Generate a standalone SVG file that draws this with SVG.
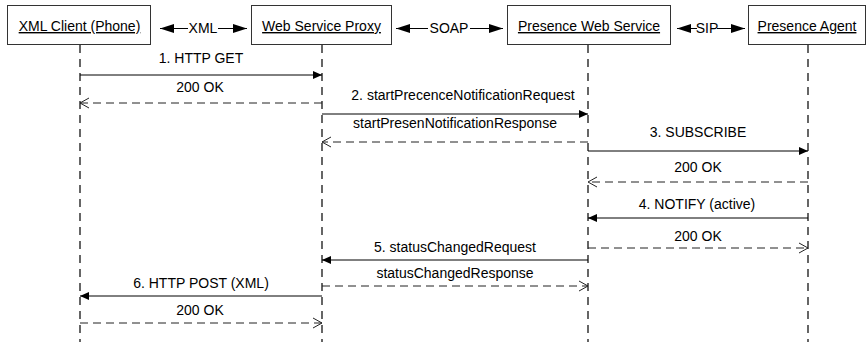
<svg xmlns="http://www.w3.org/2000/svg" width="868" height="342" viewBox="0 0 868 342">
<style>
  text { font-family: "Liberation Sans", Arial, sans-serif; font-size: 14px; fill: #000; }
  .lbl { text-anchor: middle; }
  .box { fill: #fff; stroke: #333; stroke-width: 1; }
  .life { stroke: #000; stroke-width: 1.2; stroke-dasharray: 8 6; fill: none; }
  .msg { stroke: #000; stroke-width: 1; fill: none; }
  .ret { stroke: #222; stroke-width: 1; fill: none; stroke-dasharray: 8 5; }
  .link { stroke: #000; stroke-width: 1; fill: none; }
</style>
<defs>
  <marker id="filled" markerUnits="userSpaceOnUse" viewBox="0 0 9 8" refX="9" refY="4" markerWidth="9" markerHeight="8" orient="auto">
    <path d="M0,0 L9,4 L0,8 z" fill="#000"/>
  </marker>
  <marker id="open" markerUnits="userSpaceOnUse" viewBox="0 0 11 12" refX="10" refY="6" markerWidth="11" markerHeight="12" orient="auto">
    <path d="M1,1 L10,6 L1,11" fill="none" stroke="#222" stroke-width="1"/>
  </marker>
  <marker id="big" markerUnits="userSpaceOnUse" viewBox="0 0 14 10" refX="14" refY="5" markerWidth="14" markerHeight="10" orient="auto">
    <path d="M0,0.5 L14,5 L0,9.5 z" fill="#000"/>
  </marker>
</defs>

<g id="lifelines">
  <line class="life" x1="80" y1="45" x2="80" y2="342"/>
  <line class="life" x1="322" y1="45" x2="322" y2="342"/>
  <line class="life" x1="588" y1="45" x2="588" y2="342"/>
  <line class="life" x1="808" y1="45" x2="808" y2="342"/>
</g>

<g id="node-xml-client">
  <rect class="box" x="7.5" y="5.5" width="143" height="39"/>
  <text class="lbl" x="79.5" y="31" text-decoration="underline">XML Client (Phone)</text>
</g>
<g id="node-web-service-proxy">
  <rect class="box" x="251.5" y="5.5" width="140" height="39"/>
  <text class="lbl" x="321.5" y="31" text-decoration="underline">Web Service Proxy</text>
</g>
<g id="node-presence-web-service">
  <rect class="box" x="507.5" y="5.5" width="163" height="39"/>
  <text class="lbl" x="589" y="31" text-decoration="underline">Presence Web Service</text>
</g>
<g id="node-presence-agent">
  <rect class="box" x="748.5" y="5.5" width="117" height="39"/>
  <text class="lbl" x="807" y="31" text-decoration="underline">Presence Agent</text>
</g>

<g id="connectors">
  <!-- protocol links between boxes -->
  <line class="link" x1="188" y1="28.5" x2="160" y2="28.5" marker-end="url(#big)"/>
  <line class="link" x1="218" y1="28.5" x2="247" y2="28.5" marker-end="url(#big)"/>
  <text class="lbl" x="203" y="33">XML</text>

  <line class="link" x1="428" y1="28.5" x2="396" y2="28.5" marker-end="url(#big)"/>
  <line class="link" x1="470" y1="28.5" x2="503" y2="28.5" marker-end="url(#big)"/>
  <text class="lbl" x="449" y="33">SOAP</text>

  <line class="link" x1="697" y1="28.5" x2="677" y2="28.5" marker-end="url(#big)"/>
  <line class="link" x1="717" y1="28.5" x2="745" y2="28.5" marker-end="url(#big)"/>
  <text class="lbl" x="707" y="33">SIP</text>

  <!-- messages -->
  <line class="msg" x1="80" y1="75" x2="322" y2="75" marker-end="url(#filled)"/>
  <text class="lbl" x="201" y="63">1. HTTP GET</text>

  <line class="ret" x1="322" y1="103" x2="80" y2="103" marker-end="url(#open)"/>
  <text class="lbl" x="200" y="92">200 OK</text>

  <line class="msg" x1="322" y1="114" x2="588" y2="114" marker-end="url(#filled)"/>
  <text class="lbl" x="463" y="100">2. startPrecenceNotificationRequest</text>

  <line class="ret" x1="588" y1="142" x2="322" y2="142" marker-end="url(#open)"/>
  <text class="lbl" x="455" y="128">startPresenNotificationResponse</text>

  <line class="msg" x1="588" y1="151" x2="808" y2="151" marker-end="url(#filled)"/>
  <text class="lbl" x="698" y="137">3. SUBSCRIBE</text>

  <line class="ret" x1="808" y1="182" x2="588" y2="182" marker-end="url(#open)"/>
  <text class="lbl" x="698" y="172">200 OK</text>

  <line class="msg" x1="808" y1="218" x2="588" y2="218" marker-end="url(#filled)"/>
  <text class="lbl" x="697" y="209">4. NOTIFY (active)</text>

  <line class="ret" x1="588" y1="248" x2="808" y2="248" marker-end="url(#open)"/>
  <text class="lbl" x="698" y="241">200 OK</text>

  <line class="msg" x1="588" y1="260" x2="322" y2="260" marker-end="url(#filled)"/>
  <text class="lbl" x="455" y="252">5. statusChangedRequest</text>

  <line class="ret" x1="322" y1="286" x2="588" y2="286" marker-end="url(#open)"/>
  <text class="lbl" x="455" y="278">statusChangedResponse</text>

  <line class="msg" x1="322" y1="296" x2="80" y2="296" marker-end="url(#filled)"/>
  <text class="lbl" x="201" y="288">6. HTTP POST (XML)</text>

  <line class="ret" x1="80" y1="323" x2="322" y2="323" marker-end="url(#open)"/>
  <text class="lbl" x="200" y="315">200 OK</text>
</g>
</svg>
